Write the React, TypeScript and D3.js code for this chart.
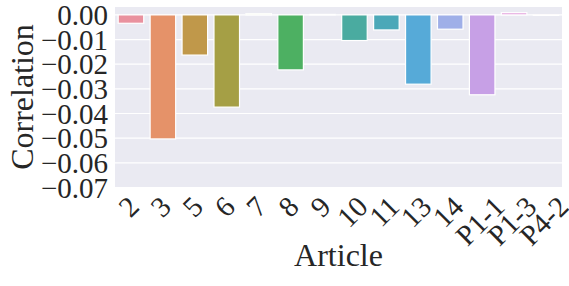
import * as d3 from "d3";
import { useEffect } from "react";

const articles = ["2", "3", "5", "6", "7", "8", "9", "10", "11", "13", "14", "P1-1", "P1-3", "P4-2"];
const correlations = [-0.0034, -0.0503, -0.0163, -0.0374, 0.0005, -0.0223, 0.0002, -0.0104, -0.0061, -0.0281, -0.0058, -0.0324, 0.0009, -0.0002];
const barColors = [
  "#e9919e", "#e59269", "#c0984a", "#a59f45", "#8aa63f", "#4db062", "#4cab8c",
  "#4aaba0", "#4ba8b8", "#56aad8", "#9fafe8", "#c7a0e6", "#e39fdc", "#ea97bd",
];
const yTicks = [0, -0.01, -0.02, -0.03, -0.04, -0.05, -0.06, -0.07];

const W = 569;
const H = 286;
const pad = { top: 7, right: 7, bottom: 99, left: 115 };
const FONT = "'Liberation Serif', 'Times New Roman', serif";
const tickSize = 29;
const labelSize = 32;

function textWidth(s: string, size: number) {
  const c = document.createElement("canvas").getContext("2d");
  if (!c) return s.length * size * 0.5;
  c.font = `${size}px 'Liberation Serif'`;
  return c.measureText(s).width;
}

export default function App() {
  useEffect(() => {
    document.body.style.margin = "0";
  }, []);

  const innerW = W - pad.left - pad.right;
  const innerH = H - pad.top - pad.bottom;
  const x = d3.scaleBand<string>().domain(articles).range([pad.left, pad.left + innerW]).paddingInner(0.2).paddingOuter(0.1);
  const y = d3.scaleLinear().domain([-0.0698, 0.0032]).range([pad.top + innerH, pad.top]);
  const fmt = (v: number) => (v < 0 ? "\u2212" : "") + Math.abs(v).toFixed(2);

  return (
    <svg width={W} height={H} style={{ display: "block", fontFamily: FONT }}>
      <rect x={pad.left} y={pad.top} width={innerW} height={innerH} fill="#eaeaf2" />
      {yTicks.map((t) => (
        <line key={t} x1={pad.left} x2={pad.left + innerW} y1={y(t)} y2={y(t)} stroke="#fff" strokeWidth={1.2} />
      ))}
      {articles.map((a, i) => {
        const v = correlations[i];
        const y0 = y(Math.max(0, v));
        const y1 = y(Math.min(0, v));
        return (
          <rect
            key={a}
            x={x(a)}
            y={y0}
            width={x.bandwidth()}
            height={Math.max(0, y1 - y0)}
            fill={barColors[i]}
            stroke="#fff"
            strokeWidth={1.2}
          />
        );
      })}
      {yTicks.map((t) => (
        <text key={t} x={pad.left - 7} y={y(t)} dy="0.35em" textAnchor="end" fontSize={tickSize} fill="#262626">
          {fmt(t)}
        </text>
      ))}
      {articles.map((a) => {
        const w = textWidth(a, tickSize);
        const side = (w + tickSize * 0.66) / Math.SQRT2;
        const cx = (x(a) ?? 0) + x.bandwidth() / 2 - 2;
        const cy = pad.top + innerH + 8 + side / 2;
        return (
          <text
            key={a}
            x={0}
            y={0}
            dy="0.33em"
            textAnchor="middle"
            fontSize={tickSize}
            fill="#262626"
            transform={`translate(${cx},${cy}) rotate(-45)`}
          >
            {a}
          </text>
        );
      })}
      <text x={pad.left + innerW / 2} y={266} textAnchor="middle" fontSize={labelSize} fill="#262626">
        Article
      </text>
      <text
        transform={`translate(${33},${pad.top + innerH / 2}) rotate(-90)`}
        textAnchor="middle"
        fontSize={labelSize}
        fill="#262626"
      >
        Correlation
      </text>
    </svg>
  );
}
